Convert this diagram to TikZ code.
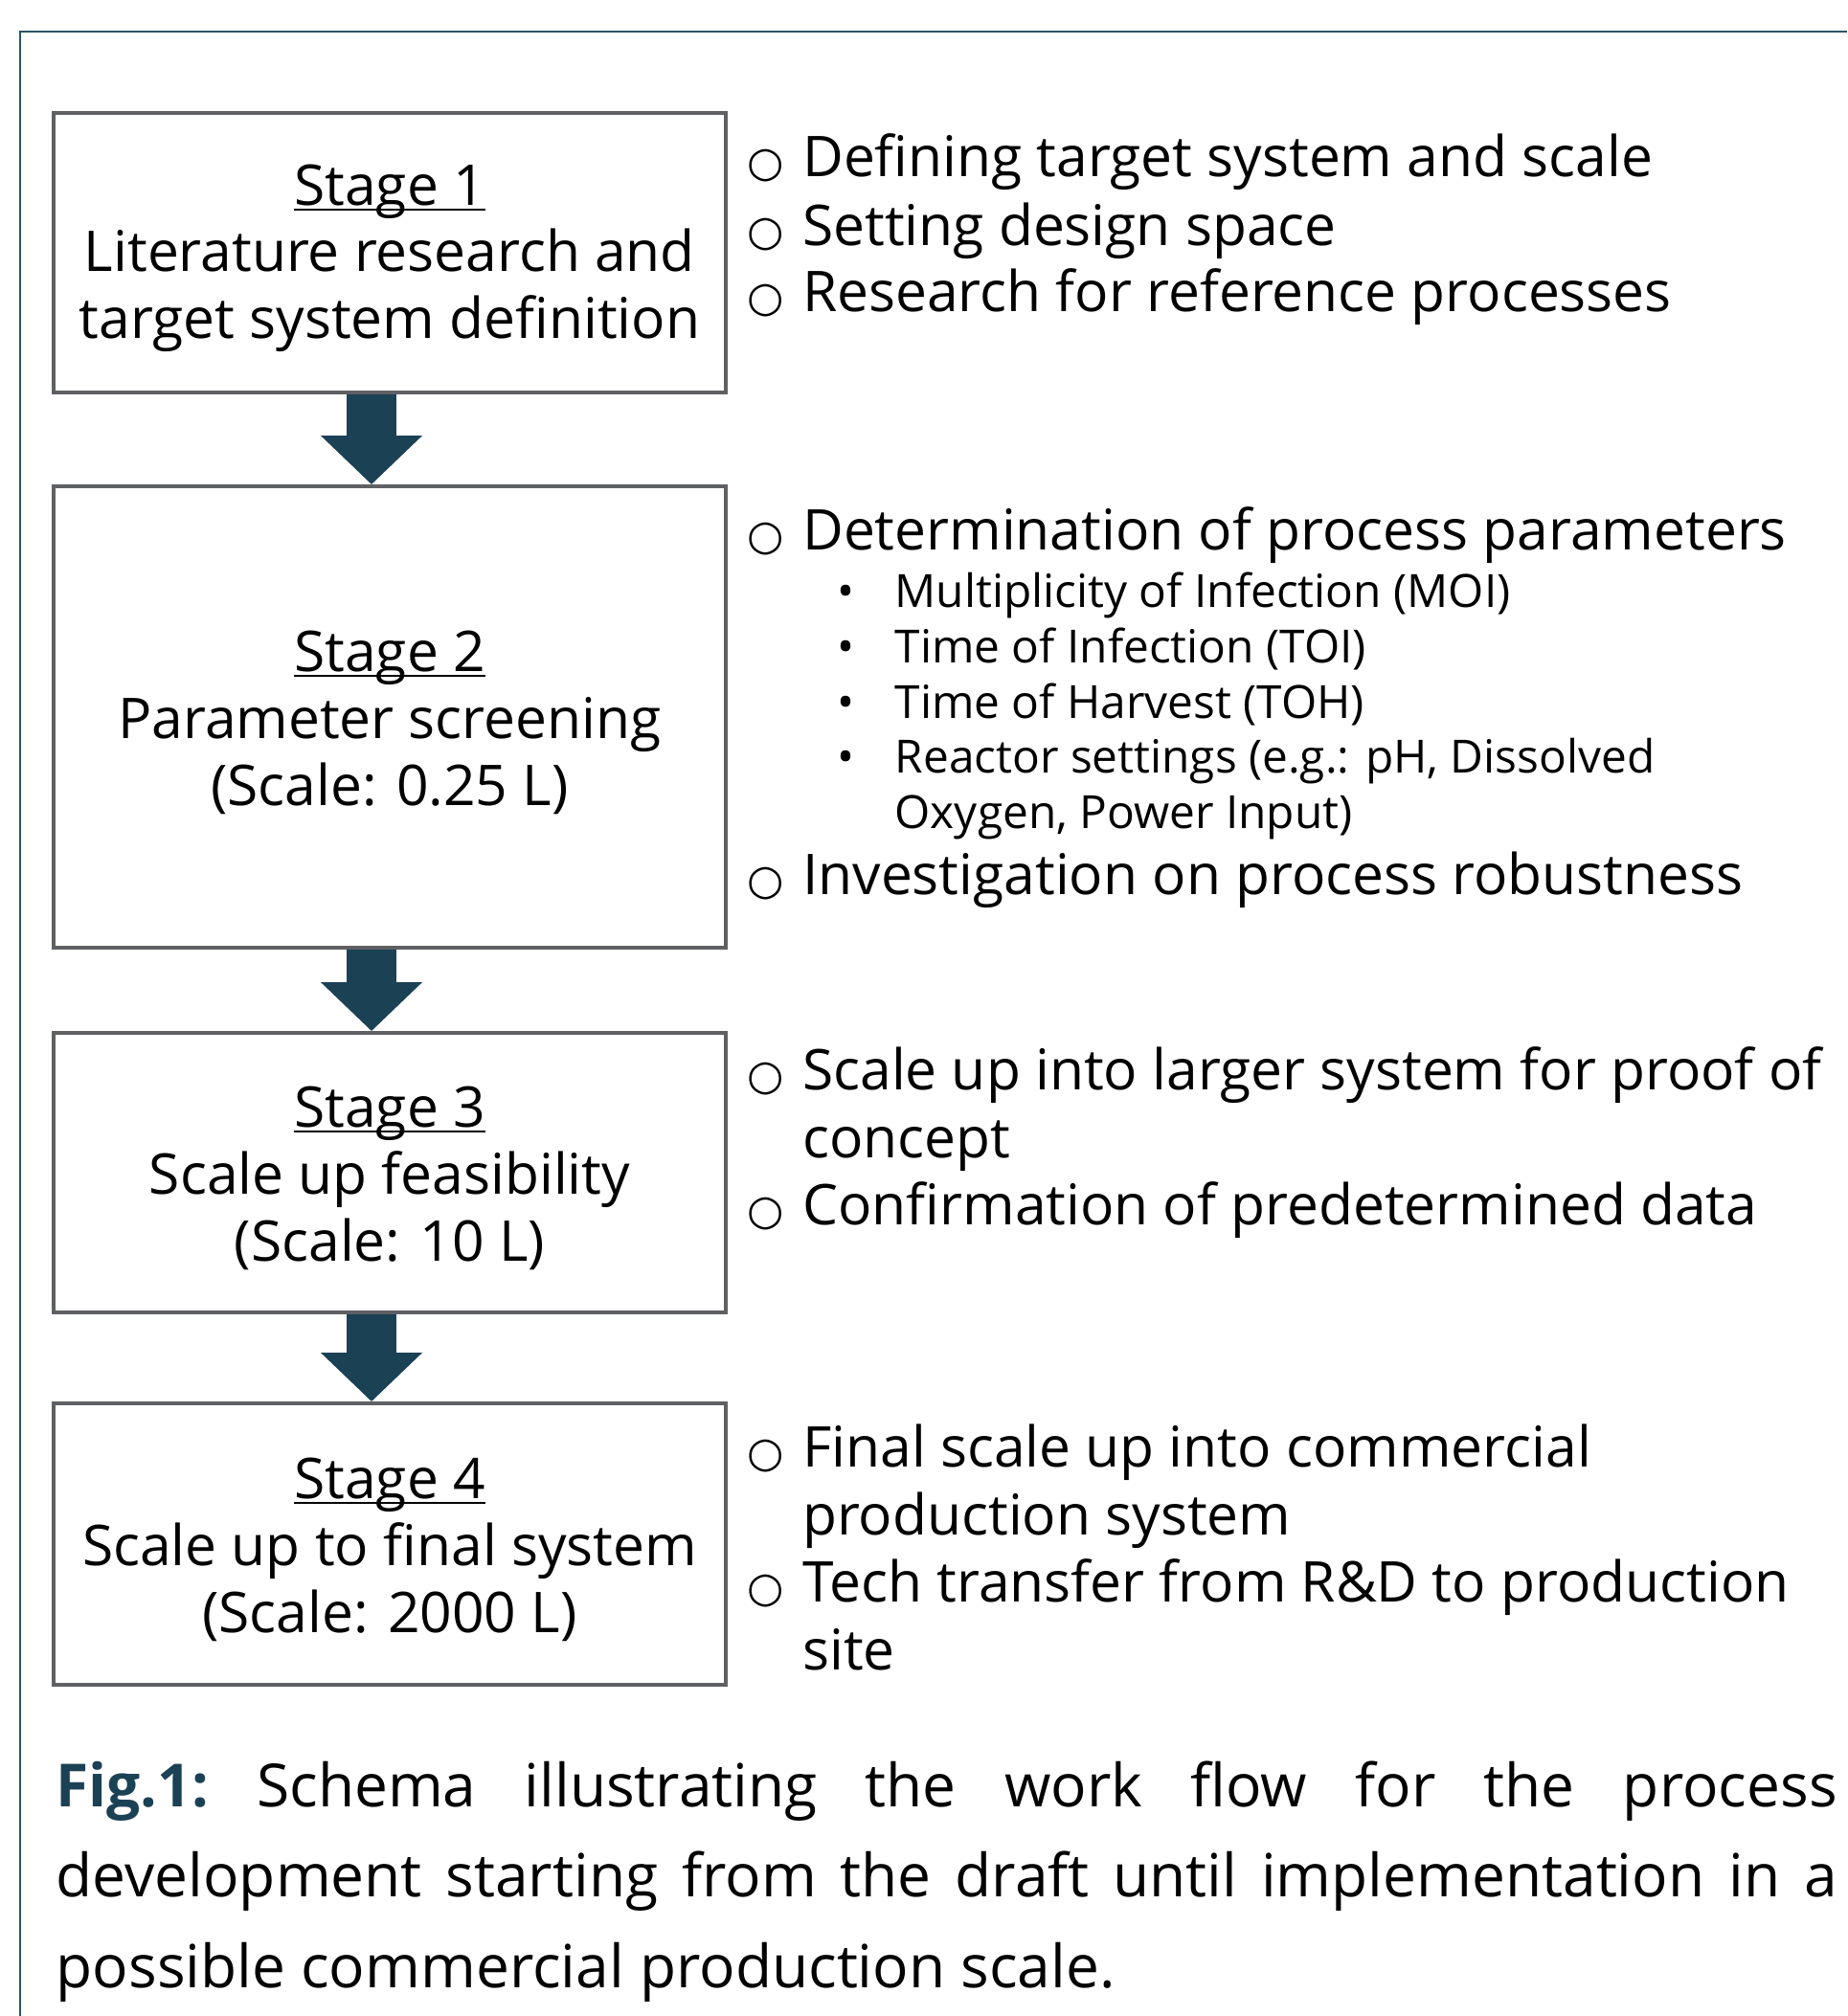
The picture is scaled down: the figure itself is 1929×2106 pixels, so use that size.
\documentclass[tikz,border=0pt]{standalone}
\usepackage{fontspec}
\setmainfont{Open Sans}
\newfontfamily\symfont{DejaVu Sans}
\usetikzlibrary{arrows.meta}
\definecolor{framecol}{HTML}{2A5568}
\definecolor{arrowcol}{HTML}{1B4154}
\definecolor{boxgray}{HTML}{5F6064}
\newcommand{\circbullet}{\makebox[5.75mm][l]{\fontsize{12.5}{12.5}\symfont ○}}
\newcommand{\dotbullet}{\hspace*{9.4mm}\makebox[6.0mm][l]{•}}
\newcommand{\stagehead}[1]{\rule{0pt}{5.4mm}\setbox0\hbox{#1}\rlap{\rule[-0.55mm]{\wd0}{0.2mm}}\box0}
\tikzset{
  stagebox/.style={draw=boxgray, line width=1.1pt, minimum width=70.2mm, align=center, inner sep=0pt, font=\fontsize{16.7}{19.9}\selectfont},
  listitem/.style={anchor=base west, align=left, inner sep=0pt, font=\fontsize{16.7}{20.1}\selectfont},
  subitem/.style={anchor=base west, align=left, inner sep=0pt, font=\fontsize{13.6}{16.3}\selectfont},
  flow/.style={arrowcol, line width=5.2mm, -{Triangle[width=10.3mm,length=5.1mm]}}
}

\begin{document}
\begin{tikzpicture}[x=0.1mm, y=-0.1mm]
\useasboundingbox (0,0) rectangle (1929,2106);
\draw[framecol, line width=0.7pt] (21,2106) -- (21,33) -- (1929,33);

\node[stagebox, minimum height=29.2mm] (s1) at (407,264) {\stagehead{Stage 1}\\Literature research and\\target system definition};
\node[stagebox, minimum height=48.2mm] (s2) at (407,749) {\stagehead{Stage 2}\\Parameter screening\\(Scale: 0.25 L)};
\node[stagebox, minimum height=29.2mm] (s3) at (407,1225) {\stagehead{Stage 3}\\Scale up feasibility\\(Scale: 10 L)};
\node[stagebox, minimum height=29.4mm] (s4) at (407,1613) {\stagehead{Stage 4}\\Scale up to final system\\(Scale: 2000 L)};

\draw[flow] ([xshift=-1.9mm]s1.south) -- ([xshift=-1.9mm]s2.north);
\draw[flow] ([xshift=-1.9mm]s2.south) -- ([xshift=-1.9mm]s3.north);
\draw[flow] ([xshift=-1.9mm]s3.south) -- ([xshift=-1.9mm]s4.north);

% stage 1
\node[listitem] (l1a) at (780,185) {\circbullet Defining target system and scale};
\node[listitem] (l1b) at (780,257) {\circbullet Setting design space};
\node[listitem] (l1c) at (780,326) {\circbullet Research for reference processes};
% stage 2
\node[listitem] (l2a) at (780,575) {\circbullet Determination of process parameters};
\node[subitem] (l2s1) at (780,635) {\dotbullet Multiplicity of Infection (MOI)};
\node[subitem] (l2s2) at (780,692) {\dotbullet Time of Infection (TOI)};
\node[subitem] (l2s3) at (780,750) {\dotbullet Time of Harvest (TOH)};
\node[subitem] (l2s4) at (780,865) {\dotbullet Reactor settings (e.g.: pH, Dissolved\\\hspace*{15.4mm}Oxygen, Power Input)};
\node[listitem] (l2b) at (780,934) {\circbullet Investigation on process robustness};
% stage 3 (base = last line)
\node[listitem] (l3a) at (780,1209) {\circbullet Scale up into larger system for proof of\\\hspace*{5.75mm}concept};
\node[listitem] (l3b) at (780,1279) {\circbullet Confirmation of predetermined data};
% stage 4
\node[listitem] (l4a) at (780,1603) {\circbullet Final scale up into commercial\\\hspace*{5.75mm}production system};
\node[listitem] (l4b) at (780,1744) {\circbullet Tech transfer from R\&D to production\\\hspace*{5.75mm}site};

\node[anchor=north west, inner sep=0pt, text width=186mm, align=justify, font=\fontsize{17.7}{26.9}\selectfont] (cap) at (58,1839)
  {\frenchspacing{\bfseries\color{arrowcol}Fig.1:} Schema illustrating the work flow for the process\linebreak development starting from the draft until implementation in a\linebreak possible commercial production scale.};
\end{tikzpicture}
\end{document}
